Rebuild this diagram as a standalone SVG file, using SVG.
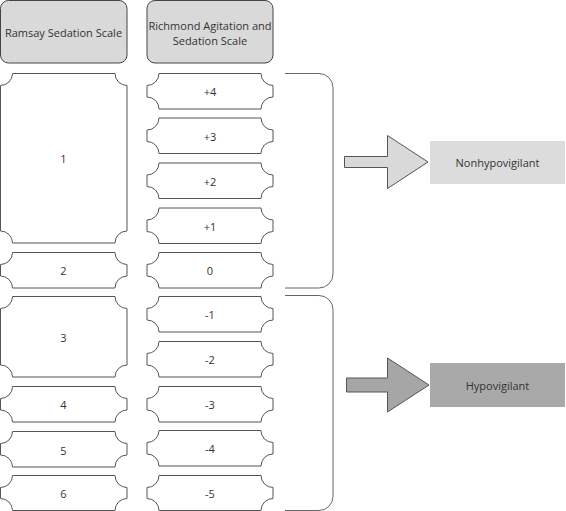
<svg xmlns="http://www.w3.org/2000/svg" width="566" height="511" viewBox="0 0 566 511">
<style>
text{font-family:"Open Sans","Noto Sans","Liberation Sans",sans-serif;font-size:11px;fill:#333;text-anchor:middle;dominant-baseline:central}
.hdr{fill:#d9d9d9;stroke:#444;stroke-width:1}
.pl{fill:#fff;stroke:#555;stroke-width:1}
.br{fill:none;stroke:#666;stroke-width:1}
</style>
<rect width="566" height="511" fill="#fff"/>
<g id="hdr-ramsay"><rect class="hdr" x="0.5" y="0.5" width="126.5" height="62.5" rx="8"/><text x="63.5" y="32">Ramsay Sedation Scale</text></g>
<g id="hdr-rass"><rect class="hdr" x="147" y="0.5" width="126" height="62.5" rx="8"/><text x="210" y="25">Richmond Agitation and</text><text x="210" y="40">Sedation Scale</text></g>

<g id="r1"><path class="pl" d="M12.5,73.5 H115 A12,12 0 0 0 127,85.5 V231 A12,12 0 0 0 115,243 H12.5 A12,12 0 0 0 0.5,231 V85.5 A12,12 0 0 0 12.5,73.5 Z"/><text x="63.5" y="158">1</text></g>
<g id="r2"><path class="pl" d="M12.5,252.5 H115 A12,12 0 0 0 127,264.5 V276 A12,12 0 0 0 115,288 H12.5 A12,12 0 0 0 0.5,276 V264.5 A12,12 0 0 0 12.5,252.5 Z"/><text x="63.5" y="270">2</text></g>
<g id="r3"><path class="pl" d="M12.5,296.5 H115 A12,12 0 0 0 127,308.5 V365 A12,12 0 0 0 115,377 H12.5 A12,12 0 0 0 0.5,365 V308.5 A12,12 0 0 0 12.5,296.5 Z"/><text x="63.5" y="337">3</text></g>
<g id="r4"><path class="pl" d="M12.5,386.5 H115 A12,12 0 0 0 127,398.5 V410 A12,12 0 0 0 115,422 H12.5 A12,12 0 0 0 0.5,410 V398.5 A12,12 0 0 0 12.5,386.5 Z"/><text x="63.5" y="404">4</text></g>
<g id="r5"><path class="pl" d="M12.5,431.5 H115 A12,12 0 0 0 127,443.5 V455 A12,12 0 0 0 115,467 H12.5 A12,12 0 0 0 0.5,455 V443.5 A12,12 0 0 0 12.5,431.5 Z"/><text x="63.5" y="450">5</text></g>
<g id="r6"><path class="pl" d="M12.5,475.5 H115 A12,12 0 0 0 127,487.5 V498.5 A12,12 0 0 0 115,510.5 H12.5 A12,12 0 0 0 0.5,498.5 V487.5 A12,12 0 0 0 12.5,475.5 Z"/><text x="63.5" y="493">6</text></g>

<g id="s+4"><path class="pl" d="M159,73.5 H261 A12,12 0 0 0 273,85.5 V97 A12,12 0 0 0 261,109 H159 A12,12 0 0 0 147,97 V85.5 A12,12 0 0 0 159,73.5 Z"/><text x="210" y="91">+4</text></g>
<g id="s+3"><path class="pl" d="M159,118 H261 A12,12 0 0 0 273,130 V141.5 A12,12 0 0 0 261,153.5 H159 A12,12 0 0 0 147,141.5 V130 A12,12 0 0 0 159,118 Z"/><text x="210" y="136">+3</text></g>
<g id="s+2"><path class="pl" d="M159,163 H261 A12,12 0 0 0 273,175 V186.5 A12,12 0 0 0 261,198.5 H159 A12,12 0 0 0 147,186.5 V175 A12,12 0 0 0 159,163 Z"/><text x="210" y="181">+2</text></g>
<g id="s+1"><path class="pl" d="M159,208 H261 A12,12 0 0 0 273,220 V231.5 A12,12 0 0 0 261,243.5 H159 A12,12 0 0 0 147,231.5 V220 A12,12 0 0 0 159,208 Z"/><text x="210" y="226">+1</text></g>
<g id="s0"><path class="pl" d="M159,252.5 H261 A12,12 0 0 0 273,264.5 V276 A12,12 0 0 0 261,288 H159 A12,12 0 0 0 147,276 V264.5 A12,12 0 0 0 159,252.5 Z"/><text x="210" y="270">0</text></g>
<g id="s-1"><path class="pl" d="M159,296.5 H261 A12,12 0 0 0 273,308.5 V320 A12,12 0 0 0 261,332 H159 A12,12 0 0 0 147,320 V308.5 A12,12 0 0 0 159,296.5 Z"/><text x="210" y="314">-1</text></g>
<g id="s-2"><path class="pl" d="M159,341.5 H261 A12,12 0 0 0 273,353.5 V365 A12,12 0 0 0 261,377 H159 A12,12 0 0 0 147,365 V353.5 A12,12 0 0 0 159,341.5 Z"/><text x="210" y="359">-2</text></g>
<g id="s-3"><path class="pl" d="M159,386.5 H261 A12,12 0 0 0 273,398.5 V410 A12,12 0 0 0 261,422 H159 A12,12 0 0 0 147,410 V398.5 A12,12 0 0 0 159,386.5 Z"/><text x="210" y="404">-3</text></g>
<g id="s-4"><path class="pl" d="M159,430.5 H261 A12,12 0 0 0 273,442.5 V454 A12,12 0 0 0 261,466 H159 A12,12 0 0 0 147,454 V442.5 A12,12 0 0 0 159,430.5 Z"/><text x="210" y="448">-4</text></g>
<g id="s-5"><path class="pl" d="M159,475.5 H261 A12,12 0 0 0 273,487.5 V498.5 A12,12 0 0 0 261,510.5 H159 A12,12 0 0 0 147,498.5 V487.5 A12,12 0 0 0 159,475.5 Z"/><text x="210" y="493">-5</text></g>

<g id="connectors">
<path class="br" d="M285,73.5 H319 A14,14 0 0 1 333,87.5 V274 A14,14 0 0 1 319,288 H285"/>
<path class="br" d="M285,295.5 H319 A14,14 0 0 1 333,309.5 V496.5 A14,14 0 0 1 319,510.5 H285"/>
<path d="M344.5,156.5 H387.5 V135.5 L428,162 L387.5,188.5 V167.5 H344.5 Z" fill="#d9d9d9" stroke="#555" stroke-width="1"/>
<path d="M346.5,378 H387.5 V358 L429,385 L387.5,412 V392 H346.5 Z" fill="#a6a6a6" stroke="#555" stroke-width="1"/>
</g>

<g id="nonhypo"><rect x="430" y="141" width="135" height="43" fill="#dcdcdc"/><text x="497.5" y="162.5">Nonhypovigilant</text></g>
<g id="hypo"><rect x="430" y="363" width="135" height="44" fill="#a9a9a9"/><text x="497.5" y="385">Hypovigilant</text></g>
</svg>
